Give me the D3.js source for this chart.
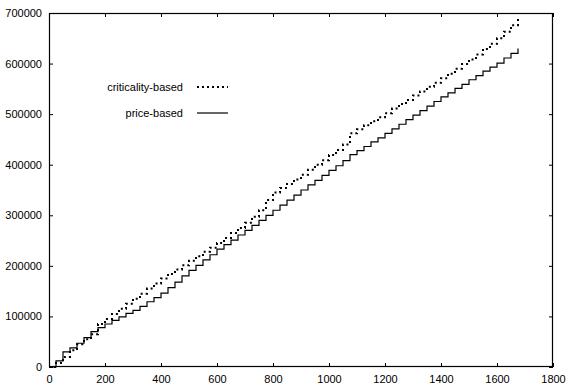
<!DOCTYPE html>
<html>
<head>
<meta charset="utf-8">
<script src="https://cdn.jsdelivr.net/npm/d3@7"></script>
<style>
  body { margin: 0; background: #fff; }
  text { font-family: "Liberation Sans", Arial, sans-serif; font-size: 11px; fill: #000; }
</style>
</head>
<body>
<svg id="chart" width="567" height="385"></svg>
<script>
// x positions (number of items) shared by both series
var xs = [0,25,50,75,100,125,150,175,200,225,250,275,300,325,350,375,400,425,450,475,
  500,525,550,575,600,625,650,675,700,725,750,775,800,825,850,875,900,925,950,975,
  1000,1025,1050,1075,1100,1125,1150,1175,1200,1225,1250,1275,1300,1325,1350,1375,
  1400,1425,1450,1475,1500,1525,1550,1575,1600,1625,1650,1675];

var criticality = [0,8000,20000,33000,45000,55000,65000,85000,95000,105000,115000,125000,
  135000,145000,155000,165000,175000,184000,193000,201000,210000,219000,228000,236000,
  245000,255000,265000,275000,285000,297000,310000,330000,345000,354000,362000,371000,
  380000,390000,400000,409000,419000,429000,440000,462000,470000,478000,486000,494000,
  502000,511000,520000,528000,537000,545000,554000,562000,571000,580000,590000,599000,
  608000,618000,629000,639000,650000,663000,676000,690000];

var price = [0,12000,30000,38000,47000,58000,70000,78000,85000,92000,99000,106000,
  112000,120000,129000,137000,146000,157000,168000,180000,191000,201000,212000,222000,
  233000,242000,251000,261000,270000,280000,290000,300000,310000,320000,330000,340000,
  350000,360000,369000,379000,389000,398000,408000,420000,428000,436000,445000,453000,
  462000,471000,480000,489000,498000,507000,516000,525000,534000,542000,551000,559000,
  568000,576000,585000,593000,601000,611000,620000,630000];

var xTicks = [0,200,400,600,800,1000,1200,1400,1600,1800];
var yTicks = [0,100000,200000,300000,400000,500000,600000,700000];
var seriesNames = ['criticality-based', 'price-based'];

var margin = {left: 49, right: 14, top: 13, bottom: 18};
var width = 567, height = 385;

var svg = d3.select('#chart');

var xScale = d3.scaleLinear().domain([0, 1800]).range([margin.left, width - margin.right]);
var yScale = d3.scaleLinear().domain([0, 700000]).range([height - margin.bottom, margin.top]);

// inward ticks on all four sides
svg.append('g')
    .attr('transform', 'translate(0,' + (height - margin.bottom) + ')')
    .call(d3.axisBottom(xScale).tickValues(xTicks).tickSizeInner(-4).tickSizeOuter(0).tickPadding(8).tickFormat(d3.format('d')))
    .call(g => g.select('.domain').remove());

svg.append('g')
    .attr('transform', 'translate(0,' + margin.top + ')')
    .call(d3.axisTop(xScale).tickValues(xTicks).tickSizeInner(-4).tickSizeOuter(0).tickFormat(''))
    .call(g => g.select('.domain').remove());

svg.append('g')
    .attr('transform', 'translate(' + margin.left + ',0)')
    .call(d3.axisLeft(yScale).tickValues(yTicks).tickSizeInner(-4).tickSizeOuter(0).tickPadding(7).tickFormat(d3.format('d')))
    .call(g => g.select('.domain').remove());

svg.append('g')
    .attr('transform', 'translate(' + (width - margin.right) + ',0)')
    .call(d3.axisRight(yScale).tickValues(yTicks).tickSizeInner(-4).tickSizeOuter(0).tickFormat(''))
    .call(g => g.select('.domain').remove());

svg.selectAll('.tick line').attr('stroke', '#000');
svg.selectAll('g').filter(function() { return this.getAttribute('font-size'); })
    .attr('font-size', null).attr('font-family', null);

// frame
svg.append('rect')
    .attr('x', margin.left + 0.5)
    .attr('y', margin.top + 0.5)
    .attr('width', width - margin.left - margin.right - 1)
    .attr('height', height - margin.top - margin.bottom - 1)
    .attr('fill', 'none')
    .attr('stroke', '#000')
    .attr('stroke-width', 1.2);

var line = d3.line()
    .x((d, i) => xScale(xs[i]))
    .y(d => yScale(d))
    .curve(d3.curveStepAfter);

svg.append('path')
    .datum(criticality)
    .attr('d', line)
    .attr('fill', 'none')
    .attr('stroke', '#000')
    .attr('stroke-width', 2)
    .attr('stroke-dasharray', '2,3');

svg.append('path')
    .datum(price)
    .attr('d', line)
    .attr('fill', 'none')
    .attr('stroke', '#000')
    .attr('stroke-width', 1.2);

// legend
var legend = svg.append('g');
seriesNames.forEach(function(name, i) {
    var y = 87 + i * 26;
    legend.append('text')
        .attr('x', 183)
        .attr('y', y)
        .attr('dy', '0.35em')
        .attr('text-anchor', 'end')
        .text(name);
    legend.append('line')
        .attr('x1', 197).attr('x2', 228)
        .attr('y1', y).attr('y2', y)
        .attr('stroke', '#000')
        .attr('stroke-width', i === 0 ? 2 : 1.2)
        .attr('stroke-dasharray', i === 0 ? '2,3' : null);
});
</script>
</body>
</html>
